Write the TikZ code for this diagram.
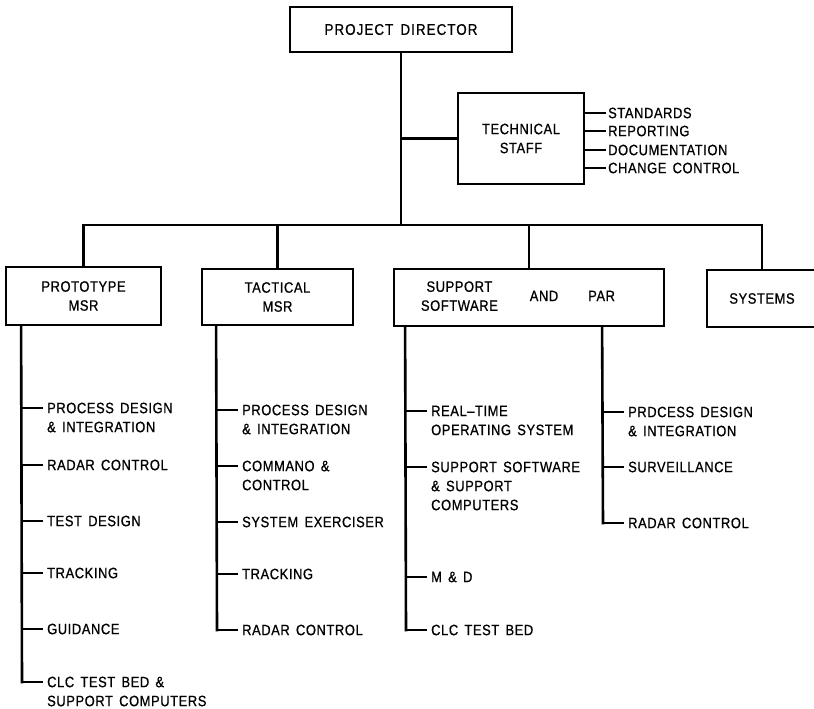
\documentclass[tikz,border=0pt]{standalone}
\usepackage{fontspec}
\setmainfont{Liberation Sans}[FakeStretch=0.86, LetterSpace=4, WordSpace=1.5, FakeBold=0.8]
\newcommand\lbl{\fontsize{15}{19}\selectfont}
\tikzset{
  conn/.style={line width=2.6pt, line cap=rect},
  box/.style={draw, line width=1.8pt, inner sep=0pt, align=center, font=\lbl},
  itemtext/.style={inner xsep=5pt, inner ysep=0pt, align=left, font=\lbl},
}
% #1 name, #2 trunk x, #3 tick y, #4 number of lines, #5 text
\newcommand\orgitem[5]{%
  \node[itemtext, anchor=west] (#1) at ({#2+20},{#3+(#4-1)*9.5}) {#5};
  \coordinate (#1-t) at (#2,#3);
  \draw[conn] (#1-t) -- (#1-t -| #1.west);
}
\begin{document}
\begin{tikzpicture}[x=1pt,y=-1pt]
\clip (0,0) rectangle (814,709);
\fill[white] (0,0) rectangle (814,709);

% top
\node[box, minimum width=222, minimum height=45, font=\fontsize{15.5}{19}\selectfont\addfontfeature{LetterSpace=7}] (pd) at (401,29.5) {PROJECT DIRECTOR};
\node[box, minimum width=126, minimum height=91] (ts) at (521,138.5) {TECHNICAL\\STAFF};
\coordinate (bar) at (401,225);
\draw[conn] (pd.south) -- (bar);
\draw[conn] (ts.west) -- (ts.west -| pd.south);

% technical staff duties
\node[itemtext, anchor=west, inner xsep=3pt] (std) at (605,113) {STANDARDS};
\node[itemtext, anchor=west, inner xsep=3pt] (rep) at (605,131) {REPORTING};
\node[itemtext, anchor=west, inner xsep=3pt] (doc) at (605,150) {DOCUMENTATION};
\node[itemtext, anchor=west, inner xsep=3pt] (chg) at (605,168) {CHANGE CONTROL};
\foreach \n in {std,rep,doc,chg}{
  \draw[conn] (\n.west -| ts.east) -- (\n.west);
}

% second level boxes
\node[box, minimum width=155, minimum height=58] (proto) at (83.5,296) {PROTOTYPE\\MSR};
\node[box, minimum width=151, minimum height=56] (tac) at (277.5,297) {TACTICAL\\MSR};
\node[box, minimum width=270, minimum height=57] (sup) at (529,297.5)
  {\begin{tabular}{@{}c@{}}SUPPORT\\SOFTWARE\end{tabular}\hspace{32pt}AND\hspace{30pt}PAR\hspace{22pt}};
\node[box, minimum width=110, minimum height=57] (sys) at (762,298.5) {SYSTEMS};

\draw[conn] (proto.north) |- (bar) -| (sys.north);
\draw[conn] (tac.north) -- (tac.north |- bar);
\draw[conn] (sup.north) -- (sup.north |- bar);

% prototype MSR
\draw[conn] ([xshift=16pt]proto.south west) -- (22,682);
\orgitem{p1}{22}{408}{2}{PROCESS DESIGN\\\& INTEGRATION}
\orgitem{p2}{22}{465}{1}{RADAR CONTROL}
\orgitem{p3}{22}{521}{1}{TEST DESIGN}
\orgitem{p4}{22}{573}{1}{TRACKING}
\orgitem{p5}{22}{629}{1}{GUIDANCE}
\orgitem{p6}{22}{682}{2}{CLC TEST BED \&\\SUPPORT COMPUTERS}

% tactical MSR
\draw[conn] ([xshift=15pt]tac.south west) -- (217,630);
\orgitem{t1}{217}{410}{2}{PROCESS DESIGN\\\& INTEGRATION}
\orgitem{t2}{217}{466}{2}{COMMANO \&\\CONTROL}
\orgitem{t3}{217}{522}{1}{SYSTEM EXERCISER}
\orgitem{t4}{217}{574}{1}{TRACKING}
\orgitem{t5}{217}{630}{1}{RADAR CONTROL}

% support software
\draw[conn] ([xshift=12pt]sup.south west) -- (406,630);
\orgitem{s1}{406}{411}{2}{REAL--TIME\\OPERATING SYSTEM}
\orgitem{s2}{406}{467}{3}{SUPPORT SOFTWARE\\\& SUPPORT\\COMPUTERS}
\orgitem{s3}{406}{577}{1}{M \& D}
\orgitem{s4}{406}{630}{1}{CLC TEST BED}

% PAR
\draw[conn] ([xshift=209pt]sup.south west) -- (603,523);
\orgitem{r1}{603}{412}{2}{PRDCESS DESIGN\\\& INTEGRATION}
\orgitem{r2}{603}{467}{1}{SURVEILLANCE}
\orgitem{r3}{603}{523}{1}{RADAR CONTROL}
\end{tikzpicture}
\end{document}
